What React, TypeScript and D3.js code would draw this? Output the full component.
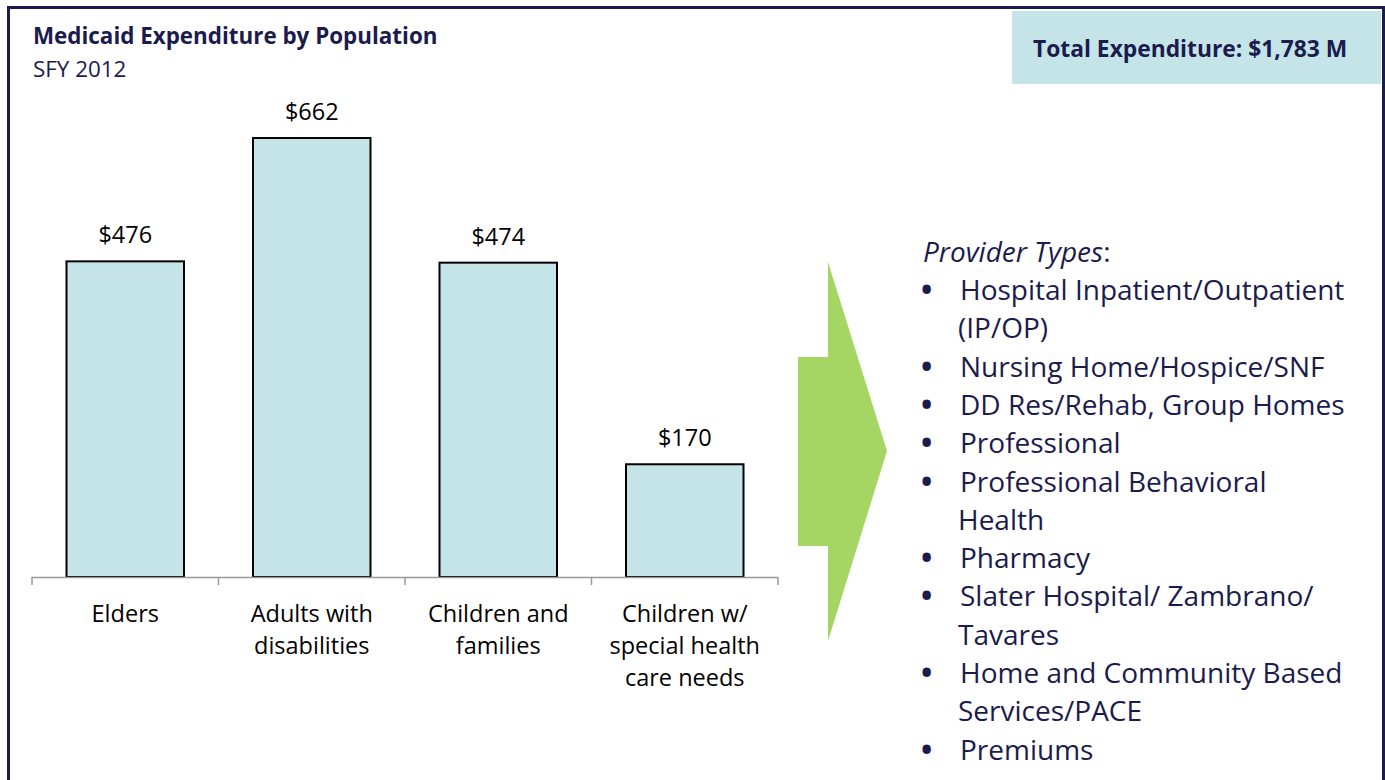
import React from 'react';
import * as d3 from 'd3';

const categories = [['Elders'], ['Adults with', 'disabilities'], ['Children and', 'families'], ['Children w/', 'special health', 'care needs']];
const values = [476, 662, 474, 170];
const providerTypes = [
  ['Hospital Inpatient/Outpatient', '(IP/OP)'],
  ['Nursing Home/Hospice/SNF'],
  ['DD Res/Rehab, Group Homes'],
  ['Professional'],
  ['Professional Behavioral', 'Health'],
  ['Pharmacy'],
  ['Slater Hospital/ Zambrano/', 'Tavares'],
  ['Home and Community Based', 'Services/PACE'],
  ['Premiums'],
];
const totalLabel = 'Total Expenditure: $1,783 M';

const W = 1385;
const H = 780;
const navy = '#1b1b4d';
const font = '"Open Sans", Lato, sans-serif';

const App = () => {
  const x = d3.scaleBand<number>().domain(d3.range(values.length)).range([32, 778]).paddingInner(0.37).paddingOuter(0.185);
  const y = d3.scaleLinear().domain([0, 662]).range([577, 138]);
  const ticks = d3.range(values.length + 1).map(i => 32 + i * x.step());

  // arrow shape
  const arrow = d3.line()([[828, 262], [887, 451], [828, 641], [828, 546], [798, 546], [798, 357], [828, 357]]) + 'Z';

  // bullet list lines
  let row = 0;
  const listLines: { text: string; bullet: boolean; row: number }[] = [];
  providerTypes.forEach(item => {
    item.forEach((t, j) => {
      listLines.push({ text: t, bullet: j === 0, row: row++ });
    });
  });

  return (
    <svg width={W} height={H} style={{ position: 'absolute', left: 0, top: 0, background: '#fff' }}>
      <rect x={0} y={0} width={W} height={H} fill="#fff" />
      <path d={`M8.5,${H} V7.5 H1383.5 V${H}`} fill="none" stroke={navy} strokeWidth={3} />

      <text x={33} y={44} fontFamily={font} fontSize={22.4} fontWeight="bold" fill={navy}>Medicaid Expenditure by Population</text>
      <text x={33} y={77} fontFamily={font} fontSize={22.4} fill={navy}>SFY 2012</text>

      <rect x={1012} y={11} width={369} height={73} fill="#c4e4e8" />
      <text x={1033} y={57} fontFamily={font} fontSize={22.8} fontWeight="bold" fill={navy}>{totalLabel}</text>

      {values.map((v, i) => (
        <g key={i}>
          <rect x={x(i)} y={y(v)} width={x.bandwidth()} height={y(0) - y(v)} fill="#c4e4e8" stroke="#000" strokeWidth={2} />
          <text x={x(i)! + x.bandwidth() / 2} y={y(v) - 18} textAnchor="middle" fontFamily={font} fontSize={23.5} fill="#000">${v}</text>
        </g>
      ))}

      <line x1={32} x2={778} y1={577.5} y2={577.5} stroke="#999" strokeWidth={1.5} />
      {ticks.map((t, i) => (
        <line key={i} x1={t} x2={t} y1={577} y2={585} stroke="#999" strokeWidth={1.5} />
      ))}
      {categories.map((lines, i) => (
        <text key={i} textAnchor="middle" fontFamily={font} fontSize={23.5} fill="#000">
          {lines.map((l, j) => (
            <tspan key={j} x={x(i)! + x.bandwidth() / 2} y={622 + j * 32}>{l}</tspan>
          ))}
        </text>
      ))}

      <path d={arrow} fill="#a5d663" />

      <text x={923} y={262} fontFamily={font} fontSize={28} fill={navy}>
        <tspan fontStyle="italic">Provider Types</tspan>:
      </text>
      {listLines.map((l, i) => (
        <g key={i}>
          {l.bullet && <text x={921} y={300 + l.row * 38.3} fontFamily={font} fontSize={30} fontWeight="bold" fill={navy}>•</text>}
          <text x={l.bullet ? 960 : 958} y={300 + l.row * 38.3} fontFamily={font} fontSize={28} fill={navy}>{l.text}</text>
        </g>
      ))}
    </svg>
  );
};

export default App;
